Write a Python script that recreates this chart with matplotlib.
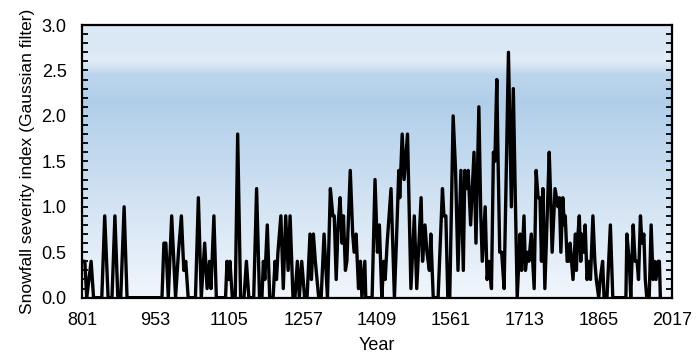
import matplotlib
matplotlib.use("Agg")
import matplotlib.pyplot as plt
import numpy as np
from matplotlib.colors import LinearSegmentedColormap

# vertices of the filtered series (year, index)
years = [801, 807, 811, 820, 825, 842, 848, 855, 863, 869, 875, 881, 888, 894,
         966, 970, 974, 979, 986, 994, 1000, 1006, 1011, 1015, 1020, 1035, 1041,
         1047, 1054, 1059, 1064, 1067, 1073, 1078, 1097, 1100, 1103, 1106, 1111,
         1117, 1122, 1128, 1135, 1140, 1145, 1155, 1161, 1167, 1172, 1175, 1178,
         1183, 1188, 1195, 1199, 1202, 1205, 1211, 1216, 1221, 1226, 1230, 1236,
         1240, 1245, 1249, 1254, 1260, 1265, 1271, 1274, 1278, 1282, 1289, 1294,
         1300, 1307, 1313, 1318, 1321, 1325, 1329, 1333, 1337, 1340, 1344, 1347,
         1354, 1359, 1362, 1366, 1371, 1375, 1378, 1384, 1386, 1399, 1405, 1410,
         1414, 1419, 1423, 1426, 1430, 1438, 1445, 1449, 1454, 1456, 1461, 1465,
         1472, 1479, 1486, 1491, 1500, 1503, 1508, 1512, 1517, 1520, 1525, 1535,
         1544, 1547, 1551, 1555, 1559, 1566, 1571, 1576, 1582, 1587, 1590, 1594,
         1597, 1602, 1609, 1613, 1619, 1623, 1626, 1632, 1636, 1640, 1645, 1649,
         1652, 1656, 1658, 1662, 1666, 1671, 1680, 1686, 1690, 1698, 1704, 1707,
         1712, 1715, 1719, 1722, 1727, 1733, 1737, 1741, 1745, 1748, 1751, 1755,
         1764, 1767, 1770, 1776, 1782, 1785, 1788, 1792, 1795, 1797, 1801, 1804,
         1807, 1813, 1818, 1820, 1822, 1826, 1829, 1831, 1835, 1838, 1842, 1845,
         1849, 1854, 1858, 1861, 1866, 1869, 1874, 1877, 1883, 1890, 1895, 1922,
         1924, 1929, 1932, 1937, 1941, 1945, 1948, 1952, 1955, 1959, 1962, 1965,
         1970, 1974, 1978, 1981, 1984, 1988, 1991, 1993]
index = [0.4, 0.4, 0.0, 0.4, 0.0, 0.0, 0.9, 0.0, 0.0, 0.9, 0.0, 0.0, 1.0, 0.0,
         0.0, 0.6, 0.6, 0.0, 0.9, 0.0, 0.5, 0.9, 0.3, 0.4, 0.0, 0.0, 1.1,
         0.0, 0.6, 0.1, 0.4, 0.1, 0.9, 0.0, 0.0, 0.4, 0.2, 0.4, 0.0,
         0.0, 1.8, 0.0, 0.0, 0.4, 0.0, 0.0, 1.2, 0.0, 0.0, 0.4, 0.2,
         0.8, 0.0, 0.0, 0.4, 0.2, 0.5, 0.9, 0.1, 0.9, 0.3, 0.9, 0.0,
         0.0, 0.4, 0.0, 0.4, 0.0, 0.0, 0.7, 0.2, 0.7, 0.4, 0.0, 0.0,
         0.7, 0.0, 1.2, 0.9, 0.9, 0.2, 0.8, 1.1, 0.6, 0.9, 0.3, 0.4,
         1.4, 0.7, 0.5, 0.7, 0.1, 0.4, 0.0, 0.4, 0.0, 0.0, 1.3, 0.5,
         0.8, 0.0, 0.4, 0.2, 0.6, 1.2, 0.0, 0.6, 1.4, 1.1, 1.8, 1.3,
         1.8, 0.1, 0.9, 0.1, 1.1, 0.4, 0.8, 0.5, 0.3, 0.7, 0.0, 0.0,
         1.2, 0.9, 0.9, 0.0, 0.0, 2.0, 1.4, 0.3, 1.4, 0.3, 1.4, 1.2,
         1.4, 0.8, 1.6, 0.6, 2.1, 0.9, 0.4, 1.0, 0.2, 0.4, 0.1, 1.6,
         1.5, 2.4, 1.7, 0.5, 0.5, 0.1, 2.7, 1.0, 2.3, 0.0, 0.7, 0.3,
         0.9, 0.3, 0.5, 0.4, 0.7, 0.1, 1.4, 1.1, 1.1, 0.4, 1.2, 0.1,
         1.6, 1.1, 0.5, 1.2, 1.0, 1.1, 0.5, 1.1, 0.8, 0.9, 0.4, 0.4,
         0.6, 0.2, 0.7, 0.3, 0.6, 0.9, 0.4, 0.7, 0.5, 0.8, 0.2, 0.4,
         0.2, 0.9, 0.4, 0.2, 0.0, 0.2, 0.4, 0.0, 0.0, 0.8, 0.0, 0.0,
         0.7, 0.4, 0.0, 0.8, 0.4, 0.4, 0.2, 0.9, 0.6, 0.7, 0.2, 0.0,
         0.0, 0.8, 0.2, 0.4, 0.2, 0.4, 0.4, 0.0]

xticks = [801, 953, 1105, 1257, 1409, 1561, 1713, 1865, 2017]
yticks = [0.0, 0.5, 1.0, 1.5, 2.0, 2.5, 3.0]

plt.rcParams['font.family'] = ['Liberation Sans', 'DejaVu Sans']

fig = plt.figure(figsize=(7, 3.63), dpi=100)
ax = fig.add_axes([0.117, 0.18, 0.843, 0.751])

# blue background, lighter at the bottom, a darker band near 2.2
cmap = LinearSegmentedColormap.from_list('bg', [
    (0.0, '#f1f6fc'), (0.35, '#d3e3f3'), (0.72, '#b1cee9'),
    (0.82, '#bcd5ec'), (0.875, '#e4eef8'), (0.92, '#dae7f4'), (1.0, '#dde9f5')])
grad = np.linspace(0, 1, 300).reshape(-1, 1)
ax.imshow(grad, aspect='auto', cmap=cmap, origin='lower',
          extent=[801, 2017, 0, 3.0], zorder=0)

ax.plot(years, index, color='black', lw=2.4, zorder=2)

ax.set_xlim(801, 2017)
ax.set_ylim(0, 3.0)
ax.set_xticks(xticks)
ax.set_yticks(yticks)
ax.set_yticklabels([f'{v:.1f}' for v in yticks])
ax.set_yticks(np.arange(0, 3.01, 0.1), minor=True)
ax.tick_params(axis='y', which='both', direction='in', length=4, width=1.3,
               right=True, labelsize=13, pad=11)
ax.tick_params(axis='x', direction='in', length=0, labelsize=13, pad=10)
for s in ax.spines.values():
    s.set_linewidth(1.6)

ax.set_xlabel('Year', fontsize=13, labelpad=6)
ax.set_ylabel('Snowfall severity index (Gaussian filter)', fontsize=12.5, labelpad=5)

fig.savefig('out.png', dpi=100)
